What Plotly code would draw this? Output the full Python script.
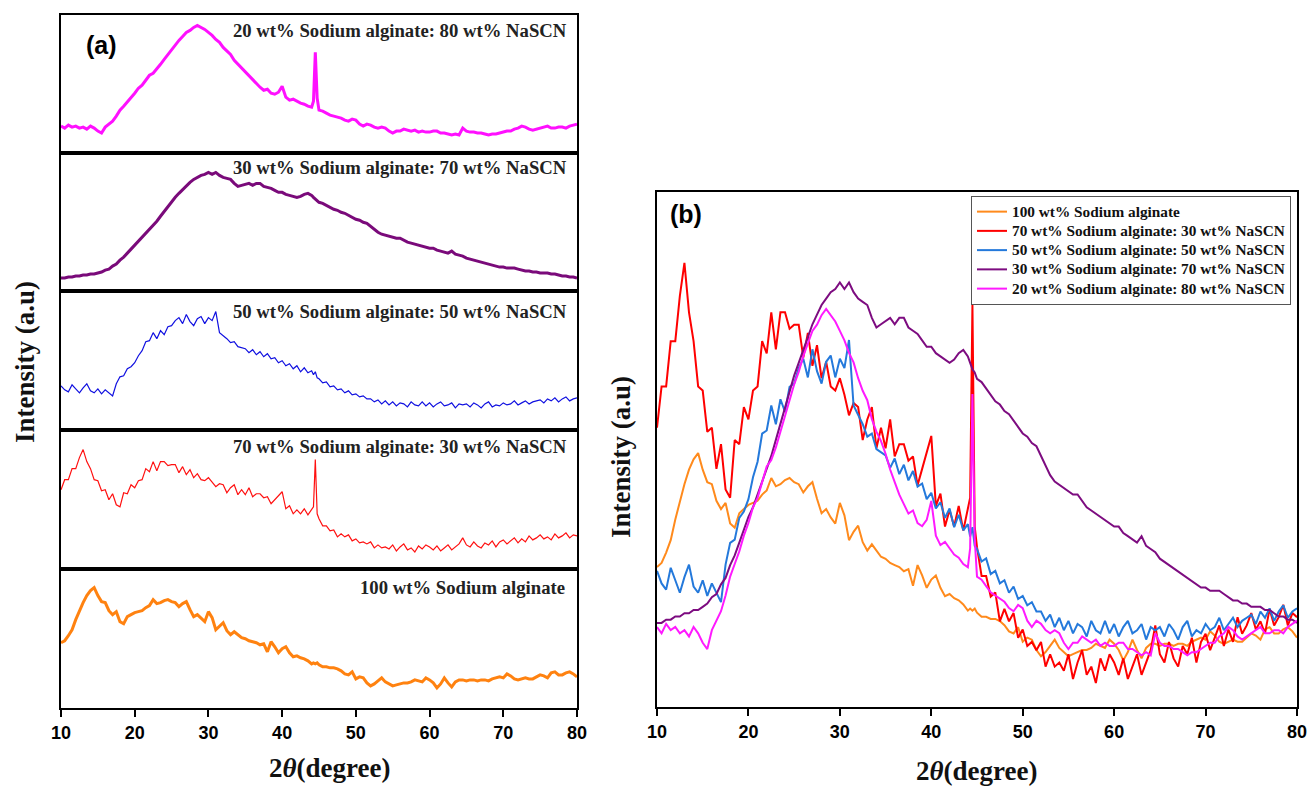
import plotly.graph_objects as go

# 2-theta sampling grid (degrees); finer steps around the 44.5 deg reflection
THETA = [10 + 0.5 * i for i in range(69)] + [44.25, 44.5, 44.75] + [45 + 0.5 * i for i in range(71)]

# Diffracted intensity (a.u.) for each composition, one value per THETA point
I_SA100 = [
    65, 67, 72, 78, 88, 97, 105, 112, 117, 120,
    112, 106, 105, 97, 93, 96, 86, 84, 91, 93,
    95, 96, 97, 100, 102, 108, 104, 105, 107, 108,
    106, 105, 101, 104, 106, 98, 91, 93, 89, 86,
    96, 90, 78, 82, 85, 77, 73, 76, 73, 70,
    69, 67, 66, 65, 63, 64, 56, 66, 61, 55,
    59, 61, 55, 51, 52, 50, 49, 47,
    44, 45, 44, 45,
    43, 41, 41, 40, 40, 39, 37, 34, 33, 36,
    29, 31, 30, 25, 22, 24, 27, 30, 26, 24,
    22, 23, 24, 25, 25, 26, 28, 27, 26, 30,
    28, 25, 20, 24, 30, 25, 21, 26, 28, 28,
    27, 28, 28, 27, 28, 28, 27, 29, 30, 31,
    30, 34, 32, 29, 28, 29, 30, 29, 29, 31,
    33, 32, 30, 35, 36, 33, 33, 35, 36, 34,
    31,
]
I_SA70 = [
    79, 89, 89, 100, 100, 111, 119, 107, 100, 89,
    88, 78, 79, 69, 75, 64, 62, 76, 75, 84,
    81, 88, 89, 100, 97, 107, 98, 107, 107, 103,
    104, 104, 96, 102, 94, 99, 91, 95, 89, 88,
    91, 87, 82, 85, 84, 76, 81, 84, 74, 79,
    74, 81, 72, 75, 75, 71, 72, 65, 69, 73,
    77, 60, 63, 55, 59, 55, 60, 54,
    59, 62, 109, 55,
    50, 43, 43, 38, 39, 32, 35, 32, 34, 28,
    30, 26, 27, 25, 27, 21, 24, 21, 22, 20,
    24, 18, 22, 25, 19, 21, 17, 23, 20, 24,
    22, 19, 23, 18, 21, 24, 19, 22, 25, 31,
    24, 22, 27, 23, 21, 26, 24, 28, 22, 27,
    29, 25, 28, 31, 26, 30, 27, 33, 29, 31,
    34, 30, 32, 29, 35, 31, 33, 36, 31, 34,
    33,
]
I_SA50 = [
    44, 40, 38, 45, 41, 37, 42, 46, 39, 37,
    41, 36, 40, 37, 34, 46, 53, 54, 61, 63,
    67, 74, 79, 88, 89, 97, 91, 99, 95, 103,
    104, 109, 112, 106, 115, 108, 104, 111, 113, 106,
    112, 109, 118, 97, 94, 91, 87, 88, 83, 82,
    81, 77, 80, 75, 78, 73, 76, 71, 72, 67,
    69, 64, 66, 61, 64, 58, 62, 57,
    59, 55, 58, 52,
    51, 47, 48, 43, 44, 40, 41, 37, 39, 35,
    36, 33, 34, 31, 31, 28, 30, 26, 29, 25,
    28, 24, 27, 26, 23, 28, 25, 24, 28, 24,
    27, 23, 26, 28, 24, 25, 27, 22, 26, 25,
    26, 23, 27, 25, 22, 26, 28, 23, 25, 24,
    27, 25, 26, 29, 25, 27, 29, 26, 28, 29,
    30, 27, 31, 29, 32, 28, 31, 33, 29, 31,
    32,
]
I_SA30 = [
    13, 13, 14, 14, 15, 15, 16, 16, 17, 17,
    18, 19, 21, 22, 25, 27, 31, 34, 38, 42,
    46, 49, 53, 57, 61, 65, 70, 75, 80, 85,
    90, 94, 98, 102, 106, 109, 112, 114, 116, 117,
    119, 117, 119, 116, 114, 113, 112, 108, 105, 106,
    107, 108, 106, 108, 108, 105, 104, 103, 101, 99,
    99, 97, 96, 95, 94, 95, 97, 98,
    96, 94, 92, 91,
    89, 88, 86, 84, 82, 81, 79, 78, 76, 74,
    72, 71, 69, 68, 65, 62, 59, 57, 56, 55,
    54, 53, 53, 51, 49, 48, 47, 46, 45, 44,
    43, 43, 41, 40, 39, 38, 40, 37, 36, 35,
    33, 32, 31, 30, 29, 28, 27, 26, 25, 24,
    24, 23, 23, 23, 22, 21, 20, 20, 19, 19,
    18, 18, 18, 17, 17, 16, 15, 15, 14, 14,
    13,
]
I_SA20 = [
    27, 25, 28, 26, 27, 25, 26, 24, 27, 25,
    22, 20, 26, 29, 32, 37, 43, 47, 51, 56,
    60, 65, 68, 73, 78, 80, 84, 89, 94, 99,
    104, 108, 113, 117, 121, 123, 126, 128, 126, 124,
    121, 118, 114, 111, 106, 102, 99, 93, 89, 86,
    82, 77, 73, 69, 66, 63, 64, 60, 59, 61,
    67, 56, 53, 54, 52, 50, 49, 47,
    46, 52, 101, 55,
    43, 42, 40, 38, 37, 36, 35, 33, 32, 34,
    33, 29, 27, 29, 28, 26, 25, 26, 25, 22,
    20, 22, 22, 24, 23, 22, 23, 21, 22, 21,
    21, 22, 22, 20, 20, 19, 18, 19, 18, 25,
    22, 21, 21, 20, 20, 19, 18, 19, 19, 20,
    21, 22, 22, 24, 25, 27, 26, 24, 23, 24,
    25, 26, 27, 25, 25, 26, 26, 25, 27, 28,
    29,
]

NAMES = [
    "100 wt% Sodium alginate",
    "70 wt% Sodium alginate: 30 wt% NaSCN",
    "50 wt% Sodium alginate: 50 wt% NaSCN",
    "30 wt% Sodium alginate: 70 wt% NaSCN",
    "20 wt% Sodium alginate: 80 wt% NaSCN",
]
SERIES = [I_SA100, I_SA70, I_SA50, I_SA30, I_SA20]
X_TICKS = [10, 20, 30, 40, 50, 60, 70, 80]

COL_A = ["#FF8210", "#FF1010", "#1010E0", "#7A0A7A", "#FF10FF"]
COL_B = ["#FF8A1C", "#FF0000", "#2479DB", "#7D0C80", "#FF1AFF"]
WID_A = [3.0, 1.2, 1.2, 3.0, 3.0]

# intensity window of each overlaid curve in panel (b)
B_RANGE = [[-2.5, 246.0], [11.2, 136.2], [0.4, 165.4], [-13.2, 147.2], [1.6, 165.1]]

W, H = 1309, 788


def xdom(p0, p1):
    return [p0 / W, p1 / W]


def ydom(top, bottom):
    return [1 - bottom / H, 1 - top / H]


SERIF = "Liberation Serif"
SANS = "Liberation Sans"

fig = go.Figure()
layout = dict(
    width=W, height=H, margin=dict(l=0, r=0, t=0, b=0, autoexpand=False),
    paper_bgcolor="white", plot_bgcolor="white",
    showlegend=True,
)

# ---- panel (a): stacked patterns, top to bottom 20, 30, 50, 70, 100 wt% alginate
box_edges = [(15, 153), (153, 291), (291, 430), (430, 569), (569, 708)]
stack_order = [4, 3, 2, 1, 0]
label_y = [31, 168, 311, 446, 587]
annotations = []
for k, (s, (top, bot)) in enumerate(zip(stack_order, box_edges)):
    n = k + 1
    xa = "x" if n == 1 else f"x{n}"
    ya = "y" if n == 1 else f"y{n}"
    fig.add_trace(go.Scatter(
        x=THETA, y=SERIES[s], mode="lines", xaxis=xa, yaxis=ya,
        line=dict(color=COL_A[s], width=WID_A[s]), showlegend=False,
        hoverinfo="skip",
    ))
    last = n == 5
    layout["xaxis" if n == 1 else f"xaxis{n}"] = dict(
        domain=xdom(61, 577), anchor=ya, range=[10, 80], automargin=False,
        showline=True, mirror=True, linecolor="black", linewidth=2,
        showgrid=False, zeroline=False,
        ticks="outside" if last else "", tickvals=X_TICKS,
        ticklen=7, tickwidth=2, tickcolor="black",
        showticklabels=last,
        tickfont=dict(family=SANS, size=18, color="black", weight="bold"),
    )
    layout["yaxis" if n == 1 else f"yaxis{n}"] = dict(
        domain=ydom(top, bot), anchor=xa, range=[0, 138.5], automargin=False,
        showline=True, mirror=True, linecolor="black", linewidth=2,
        showgrid=False, zeroline=False, ticks="", showticklabels=False,
    )
    name = NAMES[s]
    annotations.append(dict(
        text=f"<b>{name}</b>", x=(569 if s else 567) / W, y=1 - label_y[k] / H,
        xref="paper", yref="paper", xanchor="right", yanchor="middle",
        showarrow=False, font=dict(family=SERIF, size=18.7, color="#222"),
    ))

# ---- panel (b): all patterns overlaid
for j, s in enumerate(range(5)):
    yname = "y6" if j == 0 else f"y{6 + j}"
    fig.add_trace(go.Scatter(
        x=THETA, y=SERIES[s], mode="lines", xaxis="x6", yaxis=yname,
        line=dict(color=COL_B[s], width=2), hoverinfo="skip",
        name=f'<span style="font-size:15.3px">{NAMES[s]}</span>',
    ))
    ax = dict(range=B_RANGE[s], showgrid=False, zeroline=False, automargin=False)
    if j == 0:
        ax.update(domain=ydom(192, 707), anchor="x6", showline=True, mirror=True,
                  linecolor="black", linewidth=2, ticks="", showticklabels=False)
    else:
        ax.update(overlaying="y6", anchor="x6", visible=False, domain=ydom(192, 707))
    layout["yaxis6" if j == 0 else f"yaxis{6 + j}"] = ax

layout["xaxis6"] = dict(
    domain=xdom(657, 1297), anchor="y6", range=[10, 80], automargin=False,
    showline=True, mirror=True, linecolor="black", linewidth=2,
    showgrid=False, zeroline=False, ticks="outside", tickvals=X_TICKS,
    ticklen=7, tickwidth=2, tickcolor="black",
    tickfont=dict(family=SANS, size=18, color="black", weight="bold"),
)

layout["legend"] = dict(
    x=971 / W, y=1 - 196 / H, xanchor="left", yanchor="top",
    bgcolor="white", bordercolor="#555", borderwidth=1,
    font=dict(family=SERIF, size=12.5, color="#111", weight="bold"),
    tracegroupgap=0, itemwidth=30,
)

# panel letters and axis titles
annotations += [
    dict(text="<b>(a)</b>", x=101 / W, y=1 - 45 / H, font=dict(family=SANS, size=25, color="black")),
    dict(text="<b>(b)</b>", x=686 / W, y=1 - 214 / H, font=dict(family=SANS, size=25, color="black")),
    dict(text="<b>2<i>θ</i>(degree)</b>", x=329 / W, y=1 - 768 / H,
         font=dict(family=SERIF, size=27, color="#111")),
    dict(text="<b>2<i>θ</i>(degree)</b>", x=976 / W, y=1 - 771 / H,
         font=dict(family=SERIF, size=27, color="#111")),
    dict(text="<b>Intensity (a.u)</b>", x=25 / W, y=1 - 362 / H, textangle=-90,
         font=dict(family=SERIF, size=27, color="#111")),
    dict(text="<b>Intensity (a.u)</b>", x=621 / W, y=1 - 457 / H, textangle=-90,
         font=dict(family=SERIF, size=27, color="#111")),
]
for a in annotations[-6:]:
    a.update(xref="paper", yref="paper", xanchor="center", yanchor="middle", showarrow=False)

layout["annotations"] = annotations
fig.update_layout(**layout)
fig.write_html(
    "out.html",
    post_script="document.body.style.margin='0';document.body.style.overflow='hidden';",
)
